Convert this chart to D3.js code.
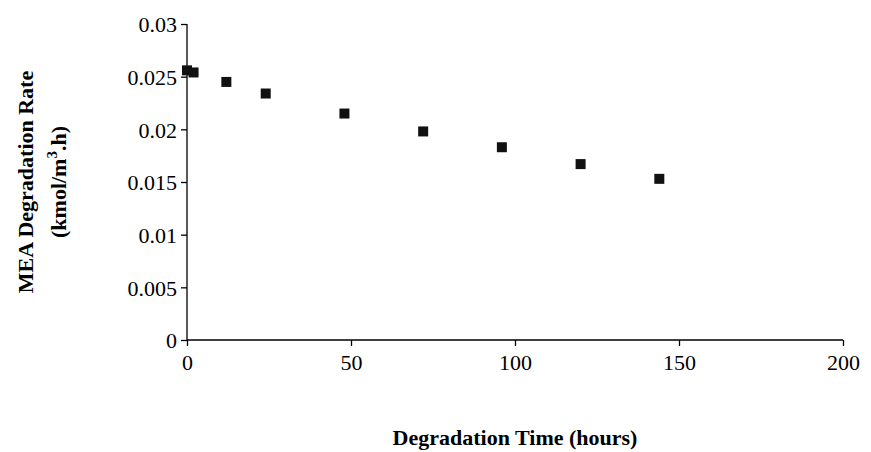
<!DOCTYPE html>
<html><head><meta charset="utf-8">
<script src="https://cdn.jsdelivr.net/npm/d3@7"></script>
<style>body{margin:0;background:#fff}text{font-family:"Liberation Serif",serif}</style>
</head><body><div id="chart"></div>
<script>
// degradation time (hours) and MEA degradation rate
const hours = [0, 2, 12, 24, 48, 72, 96, 120, 144];
const rates = [0.0256, 0.0254, 0.0245, 0.0234, 0.0215, 0.0198, 0.0183, 0.0167, 0.0153];
const xTicks = [0, 50, 100, 150, 200];
const yTicks = [0, 0.005, 0.01, 0.015, 0.02, 0.025, 0.03];

let margin = {top: 24, right: 28, bottom: 112, left: 187};
let width = 871 - margin.left - margin.right;
let height = 452 - margin.top - margin.bottom;

let svg = d3.select("#chart").append("svg").attr("width", 871).attr("height", 452);
let g = svg.append("g").attr("transform", `translate(${margin.left},${margin.top})`);

let x = d3.scaleLinear().domain([0, 200]).range([0, width]);
let y = d3.scaleLinear().domain([0, 0.03]).range([height, 0]);

let xAxis = g.append("g").attr("transform", `translate(0,${height})`)
    .call(d3.axisBottom(x).tickValues(xTicks).tickSize(6).tickFormat(d3.format("d")));
let yAxis = g.append("g")
    .call(d3.axisLeft(y).tickValues(yTicks).tickSize(6).tickFormat(d => d === 0 ? "0" : String(+d.toFixed(3))));
[xAxis, yAxis].forEach(a => {
    a.selectAll("path,line").attr("stroke", "#000").attr("stroke-width", 1.3);
    a.select(".domain").attr("d", a === xAxis ? `M0,0H${width}` : `M0,0V${height}`);
    a.selectAll("text").attr("font-size", 22).attr("font-family", "Liberation Serif").attr("fill", "#000");
});
xAxis.selectAll("text").attr("dy", "0.95em");
yAxis.selectAll("text").attr("dx", "-0.05em").attr("dy", "0.35em");

g.selectAll("rect.pt").data(hours).enter().append("rect")
    .attr("x", (d) => x(d) - 5).attr("y", (d, i) => y(rates[i]) - 5)
    .attr("width", 10).attr("height", 10).attr("fill", "#111");

svg.append("text").attr("x", margin.left + x(100)).attr("y", 445)
    .attr("text-anchor", "middle").attr("font-size", 22).attr("font-weight", "bold")
    .text("Degradation Time (hours)");

let yl = svg.append("g").attr("transform", `translate(0,${margin.top + height / 2}) rotate(-90)`);
yl.append("text").attr("x", 0).attr("y", 33).attr("text-anchor", "middle")
    .attr("font-size", 22).attr("font-weight", "bold").text("MEA Degradation Rate");
let t2 = yl.append("text").attr("x", 0).attr("y", 66).attr("text-anchor", "middle")
    .attr("font-size", 22).attr("font-weight", "bold");
t2.append("tspan").text("(kmol/m");
t2.append("tspan").attr("dy", -9).attr("font-size", 15).text("3");
t2.append("tspan").attr("dy", 9).text(".h)");
</script></body></html>
